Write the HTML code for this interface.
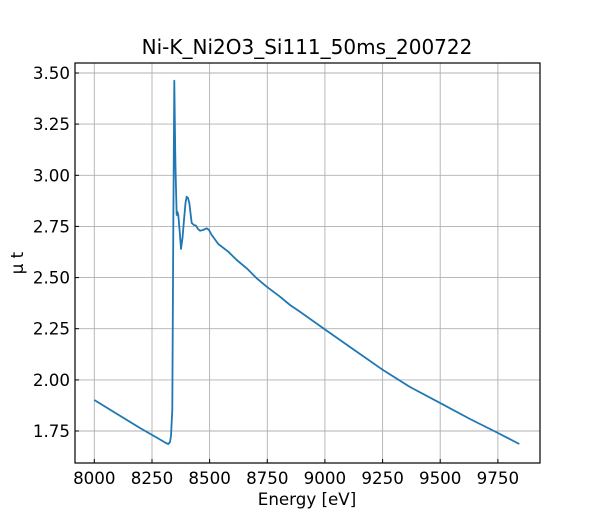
<!DOCTYPE html>
<html><head><meta charset="utf-8"><style>
html,body{margin:0;padding:0;background:#fff;}
svg text{font-family:"DejaVu Sans","Liberation Sans",sans-serif;fill:#000;}
</style></head><body>
<svg width="600" height="520" viewBox="0 0 600 520" xmlns="http://www.w3.org/2000/svg">
<rect width="600" height="520" fill="#fff"/>
<g stroke="#b0b0b0" stroke-width="0.9">
<line x1="94.3" y1="63" x2="94.3" y2="463"/>
<line x1="152" y1="63" x2="152" y2="463"/>
<line x1="209.6" y1="63" x2="209.6" y2="463"/>
<line x1="267.3" y1="63" x2="267.3" y2="463"/>
<line x1="324.9" y1="63" x2="324.9" y2="463"/>
<line x1="382.6" y1="63" x2="382.6" y2="463"/>
<line x1="440.2" y1="63" x2="440.2" y2="463"/>
<line x1="497.9" y1="63" x2="497.9" y2="463"/>
<line x1="75" y1="73" x2="540" y2="73"/>
<line x1="75" y1="124.1" x2="540" y2="124.1"/>
<line x1="75" y1="175.3" x2="540" y2="175.3"/>
<line x1="75" y1="226.4" x2="540" y2="226.4"/>
<line x1="75" y1="277.6" x2="540" y2="277.6"/>
<line x1="75" y1="328.7" x2="540" y2="328.7"/>
<line x1="75" y1="379.9" x2="540" y2="379.9"/>
<line x1="75" y1="431" x2="540" y2="431"/>
</g>
<polyline fill="none" stroke="#1f77b4" stroke-width="1.8" stroke-linejoin="round" points="94.3,400 140,428 160,439.5 166,443 168.3,444 170,442 171,436 172.3,410 173.3,227 174.3,80.7 175.2,150 175.7,176.7 176.7,215 177.5,212 178.3,215 180,235 181,249 182.5,238 184,220 185.5,203 186.7,196.7 188,198 189.3,203 191.7,223 194,225 196,225.7 198,229 200,230.7 203,230 206.7,228.3 209,230 211.7,235 218.3,244 228.3,251.7 236.7,260 246.7,268.3 256.7,278.3 266.7,286.7 280,296.7 290,305 300,311.8 325,329.5 355,350.5 383,370 410,387 440.5,403.2 470,419 498,433 519.3,444"/>
<g stroke="#000" stroke-width="1">
<line x1="94.3" y1="463" x2="94.3" y2="459"/>
<line x1="152" y1="463" x2="152" y2="459"/>
<line x1="209.6" y1="463" x2="209.6" y2="459"/>
<line x1="267.3" y1="463" x2="267.3" y2="459"/>
<line x1="324.9" y1="463" x2="324.9" y2="459"/>
<line x1="382.6" y1="463" x2="382.6" y2="459"/>
<line x1="440.2" y1="463" x2="440.2" y2="459"/>
<line x1="497.9" y1="463" x2="497.9" y2="459"/>
<line x1="75" y1="73" x2="79" y2="73"/>
<line x1="75" y1="124.1" x2="79" y2="124.1"/>
<line x1="75" y1="175.3" x2="79" y2="175.3"/>
<line x1="75" y1="226.4" x2="79" y2="226.4"/>
<line x1="75" y1="277.6" x2="79" y2="277.6"/>
<line x1="75" y1="328.7" x2="79" y2="328.7"/>
<line x1="75" y1="379.9" x2="79" y2="379.9"/>
<line x1="75" y1="431" x2="79" y2="431"/>
</g>
<rect x="75" y="63" width="465" height="400" fill="none" stroke="#000" stroke-width="1.2"/>
<g font-size="16.7" text-anchor="middle">
<text x="94.3" y="484">8000</text>
<text x="152" y="484">8250</text>
<text x="209.6" y="484">8500</text>
<text x="267.3" y="484">8750</text>
<text x="324.9" y="484">9000</text>
<text x="382.6" y="484">9250</text>
<text x="440.2" y="484">9500</text>
<text x="497.9" y="484">9750</text>
</g>
<g font-size="16.7" text-anchor="end">
<text x="70" y="79">3.50</text>
<text x="70" y="130.1">3.25</text>
<text x="70" y="181.3">3.00</text>
<text x="70" y="232.4">2.75</text>
<text x="70" y="283.6">2.50</text>
<text x="70" y="334.7">2.25</text>
<text x="70" y="385.9">2.00</text>
<text x="70" y="437">1.75</text>
</g>
<text x="307" y="505" font-size="16.7" text-anchor="middle">Energy [eV]</text>
<text transform="translate(23,263) rotate(-90)" font-size="16.7" text-anchor="middle">μ t</text>
<text x="307" y="54" font-size="20" text-anchor="middle">Ni-K_Ni2O3_Si111_50ms_200722</text>
</svg>
</body></html>
